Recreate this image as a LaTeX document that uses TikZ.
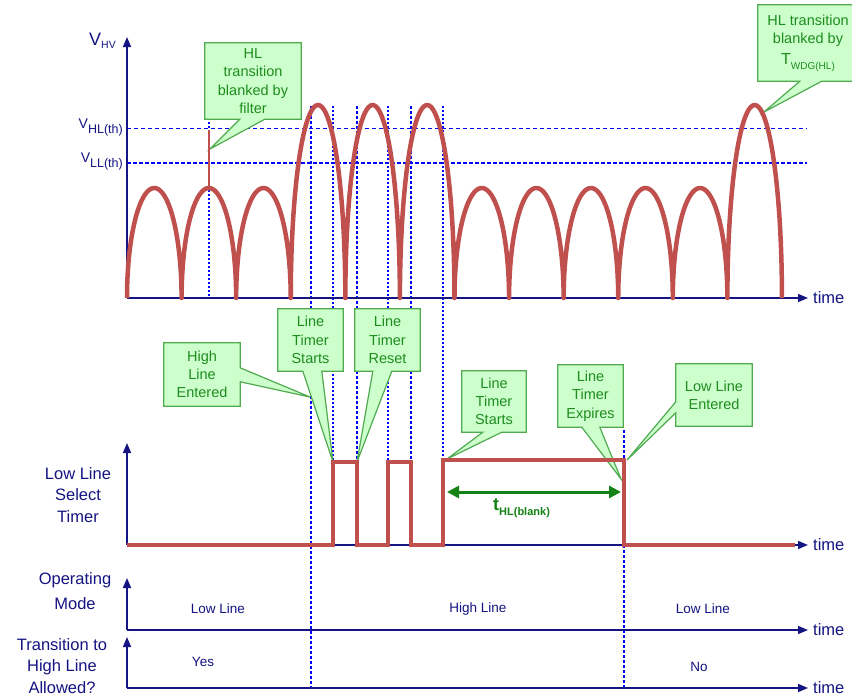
\documentclass[tikz,border=0pt]{standalone}
\usepackage{fontspec}
\setmainfont{Liberation Sans}
\usetikzlibrary{arrows.meta,calc}
\definecolor{sigred}{RGB}{192,80,77}
\definecolor{axblue}{RGB}{20,20,130}
\definecolor{thblue}{RGB}{0,0,255}
\definecolor{cfill}{RGB}{204,255,204}
\definecolor{cedge}{RGB}{80,170,80}
\definecolor{ctext}{RGB}{30,140,30}
\definecolor{arrgreen}{RGB}{20,130,20}
\pgfdeclarelayer{bg}
\pgfdeclarelayer{mid}
\pgfsetlayers{bg,mid,main}
\tikzset{
  axis/.style={draw=axblue, line width=1.5pt, -{Triangle[length=10pt,width=8pt]}},
  sig/.style={draw=sigred, line width=4.5pt},
  timer/.style={draw=sigred, line width=4pt, line join=miter},
  vdot/.style={draw=thblue, line width=1.2pt, dash pattern=on 2pt off 2pt},
  vdotb/.style={draw=thblue, line width=1.6pt, dash pattern=on 3pt off 2pt},
  thl/.style={draw=thblue, line width=1pt, dash pattern=on 4pt off 3pt},
  tll/.style={draw=thblue, line width=1.6pt, dash pattern=on 4pt off 2pt},
  ctxt/.style={rectangle, inner sep=0pt, align=center, text=ctext, font=\fontsize{14.5}{18.3}\selectfont},
  cshape/.style={fill=cfill, draw=cedge, line width=1.2pt, line join=miter},
  axlabel/.style={text=axblue, align=center, inner sep=0pt, font=\fontsize{16.5}{21.7}\selectfont},
  tlabel/.style={text=axblue, anchor=west, inner sep=5pt, font=\fontsize{16.5}{18}\selectfont},
  modelabel/.style={text=axblue, inner sep=0pt, font=\fontsize{13.5}{16}\selectfont},
}
% callout with pointer on bottom edge: node, offset1, offset2, tip
\newcommand\calloutbot[4]{\begin{pgfonlayer}{mid}\path[cshape] (#1.north west) -- (#1.north east) -- (#1.south east) -- ([xshift=#3]#1.south west) -- (#4) -- ([xshift=#2]#1.south west) -- (#1.south west) -- cycle;\end{pgfonlayer}}
% callout with pointer on right edge
\newcommand\calloutright[4]{\begin{pgfonlayer}{mid}\path[cshape] (#1.north west) -- (#1.north east) -- ([yshift=-#2]#1.north east) -- (#4) -- ([yshift=-#3]#1.north east) -- (#1.south east) -- (#1.south west) -- cycle;\end{pgfonlayer}}
% callout with pointer on left edge
\newcommand\calloutleft[4]{\begin{pgfonlayer}{mid}\path[cshape] (#1.north west) -- (#1.north east) -- (#1.south east) -- (#1.south west) -- ([yshift=-#3]#1.north west) -- (#4) -- ([yshift=-#2]#1.north west) -- cycle;\end{pgfonlayer}}
\begin{document}
\begin{tikzpicture}[x=1pt,y=-1pt]
\useasboundingbox (0,0) rectangle (852,697);
\begin{pgfonlayer}{bg}
\fill[white] (0,0) rectangle (852,697);
% thresholds
\draw[thl] (127,128) -- (807,128);
\draw[tll] (127,163) -- (807,163);
% vertical markers
\draw[vdot] (209,110) -- (209,298);
\draw[vdotb] (311,106) -- (311,688);
\draw[vdot] (333,106) -- (333,545);
\draw[vdotb] (357,106) -- (357,545);
\draw[vdot] (388,106) -- (388,545);
\draw[vdotb] (411,106) -- (411,545);
\draw[vdot] (443,106) -- (443,545);
\draw[vdotb] (624,430) -- (624,688);
\end{pgfonlayer}

% axes coordinates
\coordinate (o1) at (127,298); \coordinate (y1) at (127,37);
\coordinate (o2) at (127,545); \coordinate (y2) at (127,443);
\coordinate (o3) at (127,630); \coordinate (y3) at (127,578);
\coordinate (o4) at (127,688); \coordinate (y4) at (127,637);
\node[tlabel] (t1) at (808,298) {time};
\node[tlabel] (t2) at (808,545) {time};
\node[tlabel] (t3) at (808,630) {time};
\node[tlabel] (t4) at (808,688) {time};
\draw[axis] (o1) -- (t1.west);
\draw[axis] (o2) -- (t2.west);
\draw[axis] (o3) -- (t3.west);
\draw[axis] (o4) -- (t4.west);
\draw[axis] (o1) -- (y1);
\draw[axis] (o2) -- (y2);
\draw[axis] (o3) -- (y3);
\draw[axis] (o4) -- (y4);

% axis labels
\node[axlabel, anchor=base east, font=\fontsize{18}{20}\selectfont] (vhv) at (116,45) {V\raisebox{-3.5pt}{\fontsize{10.5}{11}\selectfont HV}};
\node[axlabel, anchor=base east, font=\fontsize{14}{16}\selectfont] (vhl) at (123,128) {V\raisebox{-5pt}{\fontsize{12.5}{13}\selectfont HL(th)}};
\node[axlabel, anchor=base east, font=\fontsize{14}{16}\selectfont] (vll) at (123,162) {V\raisebox{-5pt}{\fontsize{12.5}{13}\selectfont LL(th)}};
\node[axlabel] (lst) at (78,495) {Low Line\\Select\\Timer};
\node[axlabel, font=\fontsize{16.5}{25}\selectfont] (opm) at (75,591) {Operating\\Mode};
\node[axlabel, font=\fontsize{16.5}{21.5}\selectfont] (trn) at (62,666) {Transition to\\High Line\\Allowed?};
\node[modelabel] (m1) at (218,609) {Low Line};
\node[modelabel] (m2) at (478,609) {High Line};
\node[modelabel] (m3) at (703,609) {Low Line};
\node[modelabel] (a1) at (203,662) {Yes};
\node[modelabel] (a2) at (699,667) {No};

% rectified waveform (elliptic arches)
\draw[sig, line join=round] (127,298)
  \foreach \i/\a in {0/110,1/110,2/110,3/193,4/193,5/193,6/110,7/110,8/110,9/110,10/110,11/193} {
    -- plot[domain=0:180, samples=45] ({127+54.58*\i+27.29*(1-cos(\x))},{298-\a*sin(\x)})
  };
\draw[draw=sigred, line width=2pt] (208.5,188) -- (208.5,130);

% timer signal
\draw[timer] (127,545) -- (333,545) -- (333,462) -- (357,462) -- (357,545) -- (388,545) -- (388,462) -- (411,462) -- (411,545) -- (443,545) -- (443,460) -- (624,460) -- (624,545) -- (795,545);

% blanking time arrow
\coordinate (ba) at (447,492);
\coordinate (bb) at (621,492);
\draw[draw=arrgreen, line width=3pt, {Triangle[length=12pt,width=12pt]}-{Triangle[length=12pt,width=12pt]}] (ba) -- (bb);
\node[anchor=base west, inner sep=0pt, text=arrgreen, font=\bfseries\fontsize{18}{18}\selectfont] (tbl) at (493,510) {t\raisebox{-5pt}{\fontsize{11}{11}\selectfont HL(blank)}};

% callout pointer tips
\coordinate (p1) at (210,149);
\coordinate (p2) at (764,112);
\coordinate (p3) at (310,397);
\coordinate (p4) at (333,462);
\coordinate (p5) at (357,462);
\coordinate (p6) at (447,459);
\coordinate (p7) at (621,479);
\coordinate (p8) at (627,460);

% callouts
\node[ctxt, minimum width=96pt, minimum height=76pt] (c1) at (253,81) {HL\\transition\\blanked by\\filter};
\calloutbot{c1}{35pt}{60pt}{p1}
\node[ctxt, minimum width=100pt, minimum height=76pt] (c2) at (808,43) {HL transition\\blanked by\\[2pt]{\fontsize{16}{16}\selectfont T}\raisebox{-5pt}{\fontsize{10}{10}\selectfont WDG(HL)}};
\calloutbot{c2}{42pt}{64pt}{p2}
\node[ctxt, minimum width=76pt, minimum height=63pt] (c3) at (202,374.5) {High\\Line\\Entered};
\calloutright{c3}{25pt}{39pt}{p3}
\node[ctxt, minimum width=65pt, minimum height=62pt] (c4) at (310.5,340) {Line\\Timer\\Starts};
\calloutbot{c4}{25pt}{44pt}{p4}
\node[ctxt, minimum width=65pt, minimum height=62pt] (c5) at (387.5,340) {Line\\Timer\\Reset};
\calloutbot{c5}{18pt}{37pt}{p5}
\node[ctxt, minimum width=64pt, minimum height=61pt] (c6) at (494,401.5) {Line\\Timer\\Starts};
\calloutbot{c6}{21pt}{40pt}{p6}
\node[ctxt, minimum width=65pt, minimum height=62pt] (c7) at (590.5,396) {Line\\Timer\\Expires};
\calloutbot{c7}{24pt}{42pt}{p7}
\node[ctxt, minimum width=76pt, minimum height=62pt] (c8) at (714,395) {Low Line\\Entered};
\calloutleft{c8}{38pt}{49pt}{p8}
\end{tikzpicture}
\end{document}
